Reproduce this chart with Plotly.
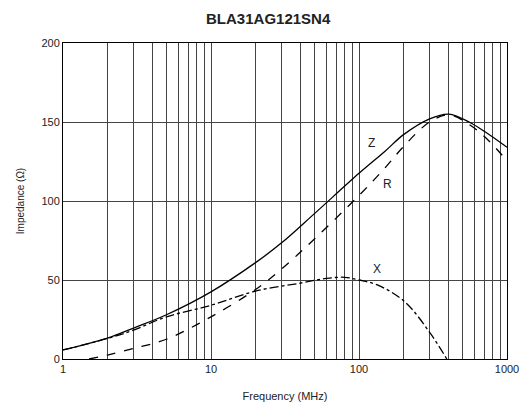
import math
import plotly.graph_objects as go

# Frequency (MHz) and impedance values (Ohm)
z_freq = [1, 2, 3, 5, 10, 20, 30, 50, 100, 150, 200, 300, 405, 554, 718, 1000]
z_vals = [5.7, 13.2, 19.6, 28, 42.5, 61, 73.5, 92, 117.5, 131.5, 142, 152, 155, 150, 143.5, 134]

r_freq = [1.5, 2, 3, 5, 10, 20, 30, 50, 100, 150, 200, 300, 405, 554, 718, 1000]
r_vals = [0, 2.5, 6.7, 12.5, 26.7, 44, 57, 76, 103.5, 121, 134.5, 150, 154.5, 148.5, 140, 125.5]

x_freq = [1, 2, 3, 5, 10, 20, 40, 60, 80, 100, 133, 203, 302, 392]
x_vals = [5.7, 13, 18.3, 26.7, 34, 43, 48, 51, 51.7, 50, 46.9, 36.4, 16.5, 0]

x_tick_vals = [m * 10 ** d for d in range(3) for m in range(1, 10)] + [1000]
x_tick_text = [str(v) if v in (1, 10, 100, 1000) else "" for v in x_tick_vals]
y_tick_vals = [0, 50, 100, 150, 200]

font = "Liberation Sans, Arial, sans-serif"
fig = go.Figure()
fig.add_trace(go.Scatter(x=z_freq, y=z_vals, mode="lines", line=dict(color="black", width=1.3, shape="spline"), name="Z"))
fig.add_trace(go.Scatter(x=r_freq, y=r_vals, mode="lines", line=dict(color="black", width=1.3, dash="dash", shape="spline"), name="R"))
fig.add_trace(go.Scatter(x=x_freq, y=x_vals, mode="lines", line=dict(color="black", width=1.3, dash="dashdot", shape="spline"), name="X"))

for txt, fx, fy in [("Z", 121, 137), ("R", 157, 111), ("X", 133, 57)]:
    fig.add_annotation(x=math.log10(fx), y=fy, text=txt, showarrow=False,
                       font=dict(family=font, size=12, color="#222"))

fig.update_layout(
    width=531, height=414,
    margin=dict(l=63, r=16, t=42.5, b=55),
    paper_bgcolor="white", plot_bgcolor="white",
    showlegend=False,
    title=dict(text="<b>BLA31AG121SN4</b>", x=0.505, xanchor="center", y=0.955, yanchor="middle",
               font=dict(family=font, size=15, color="#222")),
    font=dict(family=font, size=11, color="#222"),
)
fig.update_xaxes(type="log", range=[0, 3], tickvals=x_tick_vals, ticktext=x_tick_text,
                 showgrid=True, gridcolor="#444", gridwidth=1, ticks="",
                 showline=True, linecolor="black", linewidth=1, mirror=True, zeroline=False,
                 title=dict(text="Frequency (MHz)", font=dict(size=11), standoff=18),
                 tickfont=dict(size=11))
fig.update_yaxes(range=[0, 200], tickvals=y_tick_vals, showgrid=True, gridcolor="#444", gridwidth=1,
                 ticks="", showline=True, linecolor="black", linewidth=1, mirror=True, zeroline=False,
                 title=dict(text="Impedance (Ω)", font=dict(size=10), standoff=14),
                 tickfont=dict(size=11))
fig.write_html("out.html", config={"displayModeBar": False},
               post_script="document.body.style.margin='0';")
